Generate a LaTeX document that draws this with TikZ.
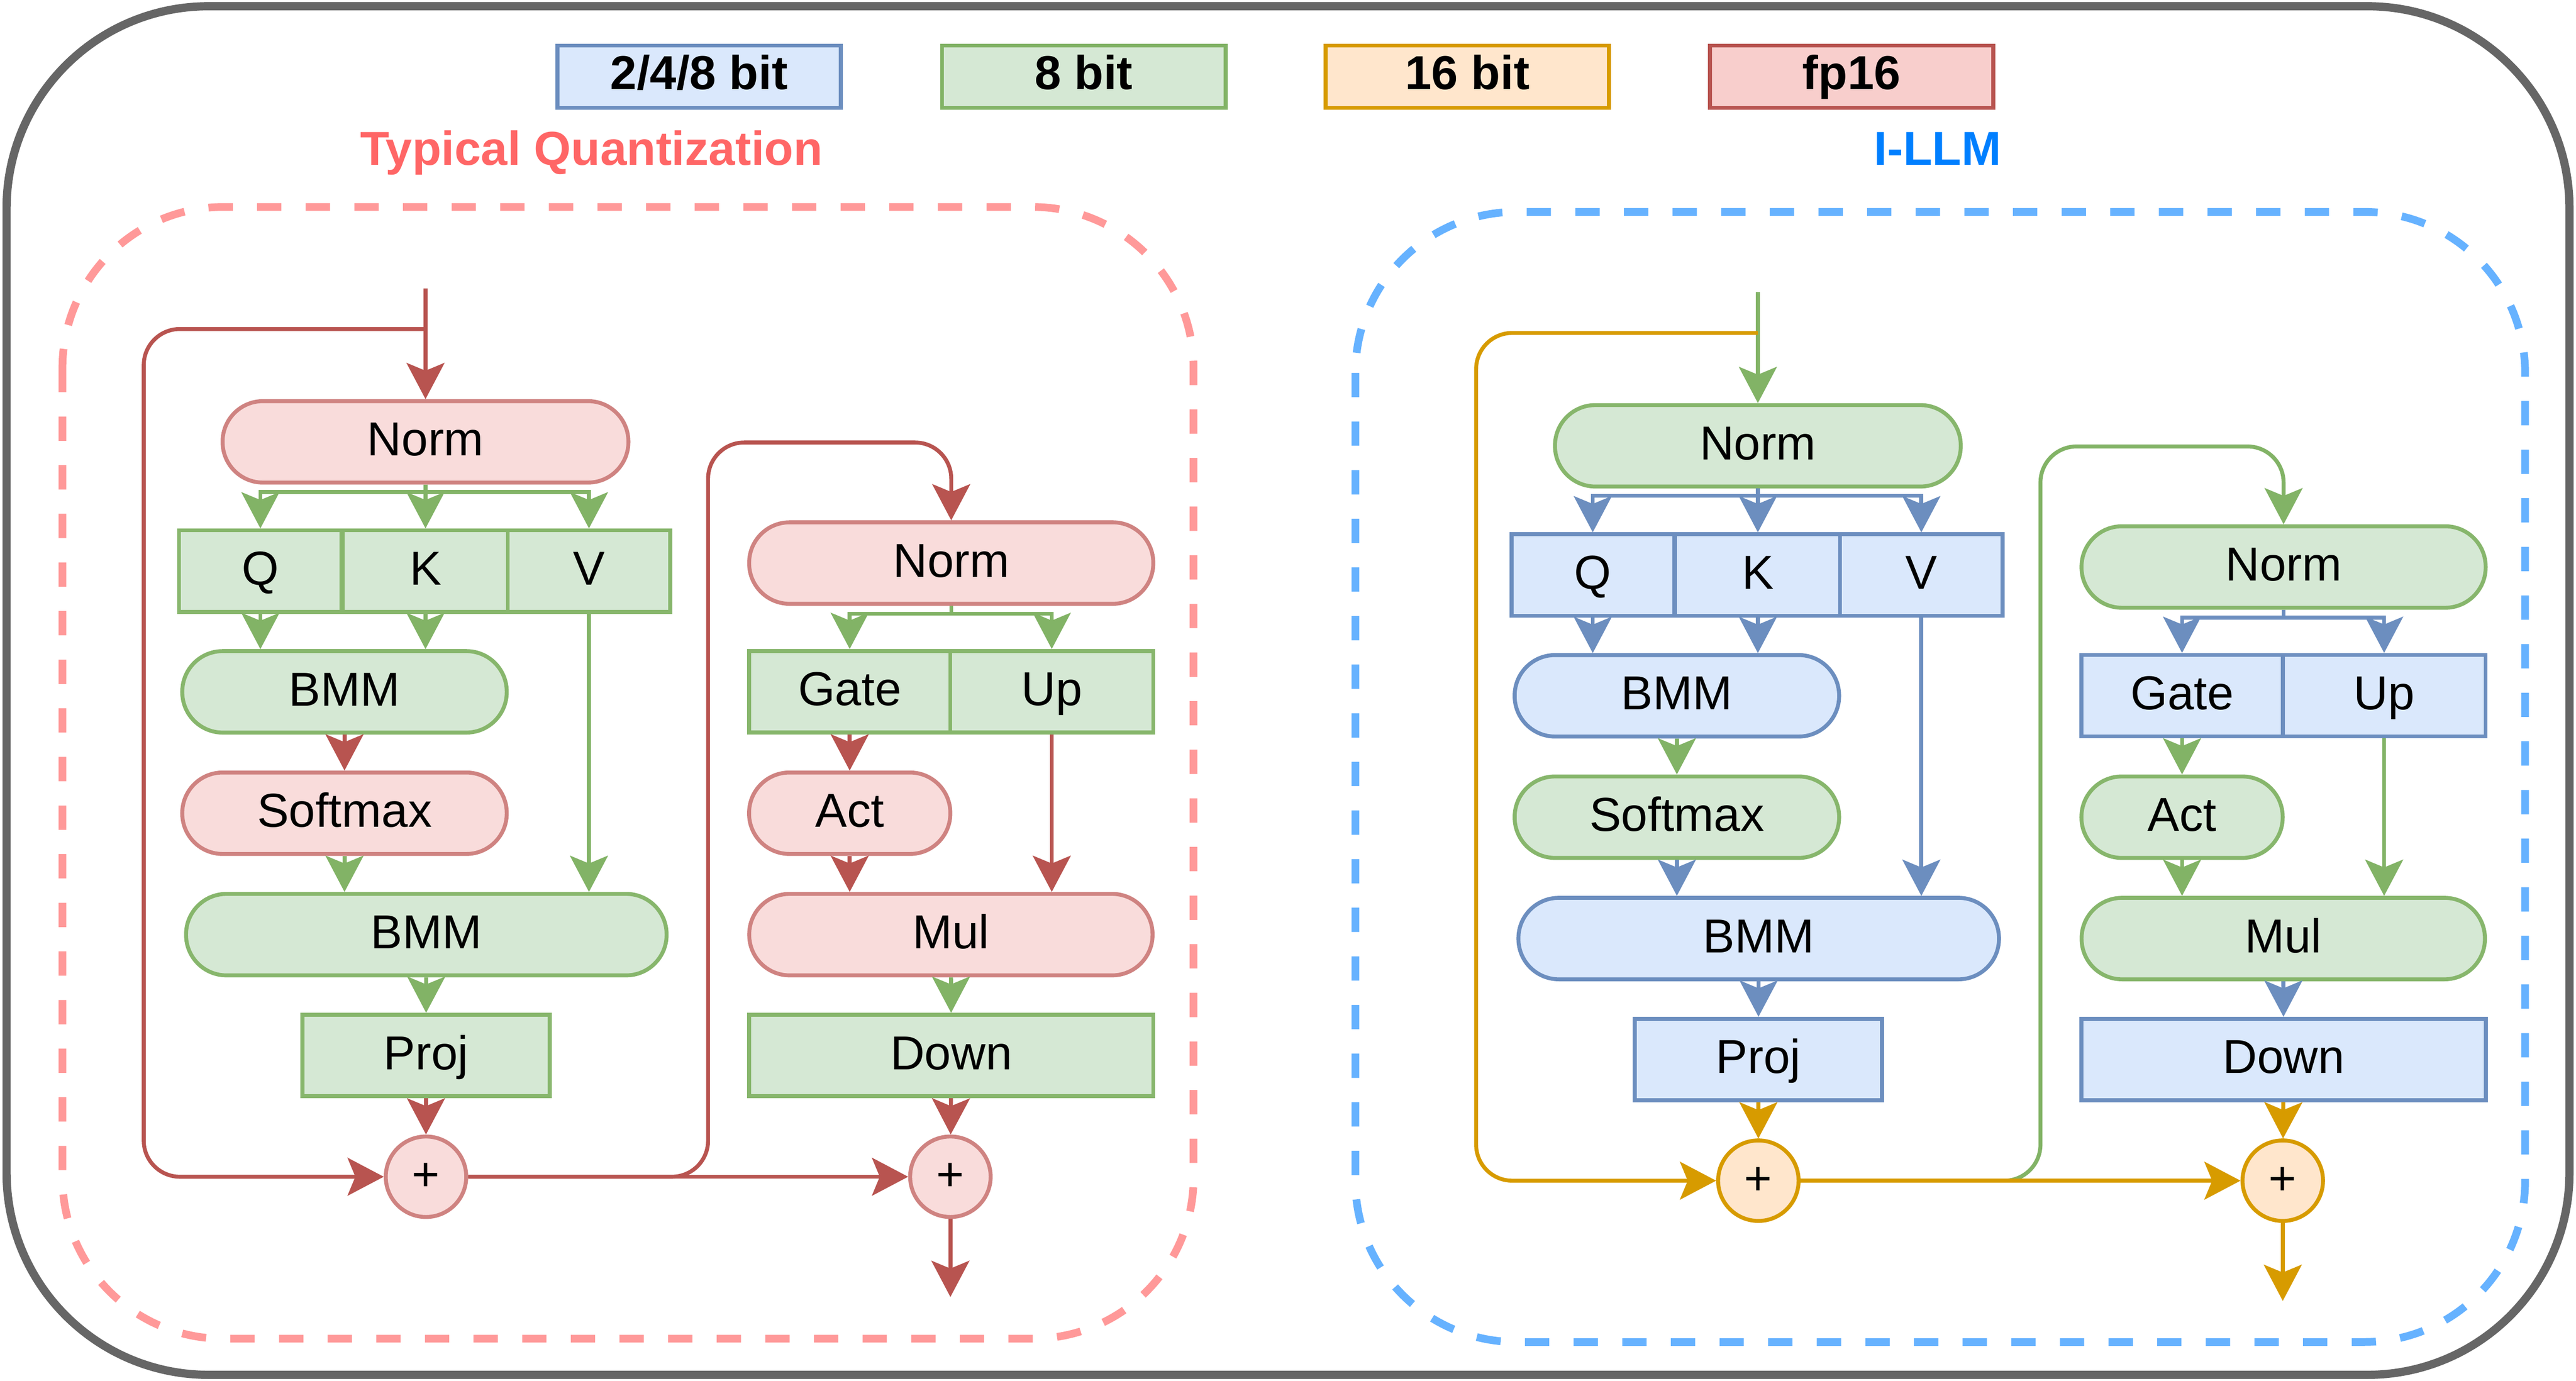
\documentclass[tikz,border=0pt]{standalone}
\usepackage{fontspec}
\setmainfont{Liberation Sans}
\usepackage{tikz}
\usetikzlibrary{arrows.meta}
\usepackage{xcolor}

\definecolor{grnfill}{HTML}{D5E8D4}
\definecolor{grnnode}{HTML}{87B66C}
\definecolor{grnline}{HTML}{82B366}
\definecolor{grnkey}{HTML}{D5E8D4}
\definecolor{blufill}{HTML}{DAE8FC}
\definecolor{blunode}{HTML}{6C8EBF}
\definecolor{bluline}{HTML}{6C8EBF}
\definecolor{blukey}{HTML}{DAE8FC}
\definecolor{redfill}{HTML}{F9DCDB}
\definecolor{rednode}{HTML}{CF8381}
\definecolor{redline}{HTML}{B85450}
\definecolor{redkey}{HTML}{F8CECC}
\definecolor{orgfill}{HTML}{FFE6CC}
\definecolor{orgnode}{HTML}{D79B00}
\definecolor{orgline}{HTML}{D79B00}
\definecolor{orgkey}{HTML}{FFE6CC}
\definecolor{frame}{HTML}{666666}
\definecolor{dashred}{HTML}{FF9999}
\definecolor{dashblue}{HTML}{66B2FF}
\definecolor{titlered}{HTML}{FF6666}
\definecolor{titleblue}{HTML}{007FFF}

\newcommand{\nodefont}{\fontsize{29}{34}\selectfont}

\tikzset{
  opbox/.style={draw=#1node, fill=#1fill, line width=2.4pt, inner sep=0pt, minimum height=49.6pt, text height=21pt, text depth=4pt, font=\nodefont},
  pillbox/.style={opbox=#1, rounded corners=24.6pt},
  addnode/.style={opbox=#1, circle, minimum size=49pt},
  link/.style={draw=#1line, line width=2.4pt, -{Stealth[length=22pt, width=23pt, inset=4.7pt]}},
  keybox/.style={draw=#1line, fill=#1key, line width=2.4pt, inner sep=0pt, minimum width=172.5pt, minimum height=38pt, text height=21pt, text depth=5.3pt, font=\nodefont\bfseries},
  dashbox/.style={draw=#1, line width=4.7pt, dash pattern=on 14.8pt off 14.8pt, rounded corners=98pt},
}

% one decoder layer: #1 shift, #2 prefix, #3 linear colour, #4 non-linear colour, #5 residual colour
\newcommand{\llmblock}[5]{%
\begin{scope}[shift={#1}, name prefix=#2-]
\coordinate (input) at (259,175.5);
\coordinate (fork) at (259,200.3);
\coordinate (output) at (578.5,789.6);
% attention
\node[pillbox=#4, minimum width=247pt] (norm1) at (259,269) {Norm};
\node[opbox=#3, minimum width=99pt] (q) at (158.5,347.7) {Q};
\node[opbox=#3, minimum width=101pt] (k) at (259,347.7) {K};
\node[opbox=#3, minimum width=99pt] (v) at (358.5,347.7) {V};
\node[pillbox=#3, minimum width=197.5pt] (bmm1) at (209.7,421.2) {BMM};
\node[pillbox=#4, minimum width=197.5pt] (soft) at (209.7,495.1) {Softmax};
\node[pillbox=#3, minimum width=292.5pt] (bmm2) at (259.5,569) {BMM};
\node[opbox=#3, minimum width=150.5pt] (proj) at (259.3,642.6) {Proj};
\node[addnode=#5] (plus1) at (259.3,716.4) {+};
% ffn
\node[pillbox=#4, minimum width=246pt] (norm2) at (579,342.8) {Norm};
\node[opbox=#3, minimum width=122.5pt] (gate) at (517.2,421.1) {Gate};
\node[opbox=#3, minimum width=123.5pt] (up) at (640.2,421.1) {Up};
\node[pillbox=#4, minimum width=122.5pt] (act) at (517.2,495.1) {Act};
\node[pillbox=#4, minimum width=245.5pt] (mul) at (578.8,569) {Mul};
\node[opbox=#3, minimum width=246pt] (down) at (579,642.6) {Down};
\node[addnode=#5] (plus2) at (578.5,716.4) {+};
% connectors
\draw[link=#4] (input) -- (norm1);
\draw[link=#5, rounded corners=22pt] (fork) -- ++(-171.5,0) |- (plus1);
\draw[link=#3] (norm1.south) -- ++(0,4.4) -| (q);
\draw[link=#3] (norm1) -- (k);
\draw[link=#3] (norm1.south) -- ++(0,4.4) -| (v);
\draw[link=#3] (q) -- (q |- bmm1.north);
\draw[link=#3] (k) -- (k |- bmm1.north);
\draw[link=#4] (bmm1) -- (soft);
\draw[link=#3] (soft) -- (soft |- bmm2.north);
\draw[link=#3] (v) -- (v |- bmm2.north);
\draw[link=#3] (bmm2) -- (proj);
\draw[link=#5] (proj) -- (plus1);
\draw[link=#4, rounded corners=22pt] (plus1) -| (431,269.4) -| (norm2);
\draw[link=#5] (plus1) -- (plus2);
\draw[link=#3] (norm2.south) -- ++(0,4.8) -| (gate);
\draw[link=#3] (norm2.south) -- ++(0,4.8) -| (up);
\draw[link=#4] (gate) -- (act);
\draw[link=#4] (act) -- (act |- mul.north);
\draw[link=#4] (up) -- (up |- mul.north);
\draw[link=#3] (mul) -- (down);
\draw[link=#5] (down) -- (plus2);
\draw[link=#5] (plus2) -- (output);
\end{scope}}

\begin{document}
\begin{tikzpicture}[x=1pt,y=1pt,yscale=-1,xscale=1]
\useasboundingbox (0,0) rectangle (1568,840.5);

%Shape: Rounded Rect
\draw[draw=frame, line width=5pt, rounded corners=123pt] (4,3.8) rectangle (1564,837);
%Shape: Dashed Rounded Rect
\draw[dashbox=dashred] (38,126) rectangle (726.5,815);
\draw[dashbox=dashblue] (825,129) rectangle (1537,817);

% legend
\node[keybox=blu] (key248) at (425.5,46.7) {2/4/8 bit};
\node[keybox=grn] (key8) at (659.7,46.7) {8 bit};
\node[keybox=org] (key16) at (893.2,46.7) {16 bit};
\node[keybox=red] (keyfp) at (1127,46.7) {fp16};

% Text Node
\node[font=\nodefont\bfseries, text=titlered, anchor=base] (typq) at (360,100.6) {Typical Quantization};
% Text Node
\node[font=\nodefont\bfseries, text=titleblue, anchor=base] (illm) at (1179.5,100.6) {I-LLM};

\llmblock{(0,0)}{L}{grn}{red}{red}
\llmblock{(811,2.4)}{R}{blu}{grn}{org}

\end{tikzpicture}
\end{document}
